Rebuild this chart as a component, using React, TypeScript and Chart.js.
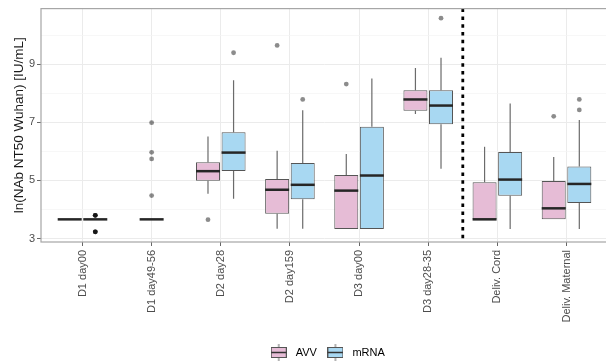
import React, { useEffect, useRef } from 'react';
import { Chart, registerables } from 'chart.js';

Chart.register(...registerables);

// ---------- data ----------
const categories = [
  'D1 day00',
  'D1 day49-56',
  'D2 day28',
  'D2 day159',
  'D3 day00',
  'D3 day28-35',
  'Deliv. Cord',
  'Deliv. Maternal',
];

const avvQ1 = [3.66, 3.66, 4.99, 3.85, 3.33, 7.4, 3.66, 3.66];
const avvQ3 = [3.66, 3.66, 5.63, 5.05, 5.19, 8.11, 4.94, 4.98];
const avvMedian = [3.66, 3.66, 5.32, 4.68, 4.65, 7.79, 3.66, 4.04];
const avvLow = [3.66, 3.66, 4.54, 3.34, 3.33, 7.29, 3.66, 3.66];
const avvHigh = [3.66, 3.66, 6.51, 6.02, 5.91, 8.87, 6.16, 5.81];
const avvOutliers: number[][] = [[], [6.99, 5.97, 5.74, 4.48], [3.65], [9.65], [8.32], [], [], [7.21]];

const mrnaQ1 = [3.66, null, 5.33, 4.35, 3.33, 6.94, 4.47, 4.22];
const mrnaQ3 = [3.66, null, 6.66, 5.6, 6.85, 8.11, 5.98, 5.48];
const mrnaMedian = [3.66, null, 5.96, 4.85, 5.17, 7.58, 5.03, 4.88];
const mrnaLow = [3.66, null, 4.37, 3.34, 3.33, 5.4, 3.33, 3.33];
const mrnaHigh = [3.66, null, 8.45, 7.42, 8.51, 9.23, 7.65, 7.08];
// repeated values = several overlapping observations
const mrnaOutliers: number[][] = [
  [3.8, 3.8, 3.8, 3.8, 3.23, 3.23, 3.23, 3.23],
  [],
  [9.4],
  [7.79],
  [],
  [10.59],
  [],
  [7.79, 7.43],
];

const yTicks = [3, 4, 5, 6, 7, 8, 9, 10];
const separatorAt = 5.5;

// ---------- style ----------
const FONT = '"Liberation Sans", Arial, sans-serif';
const PINK = '#E6BCD6';
const BLUE = '#A8D8F2';
const BOX_BORDER = '#555555';
const LEG_DX = 22;
const LEG_DY = 6;

const series = [
  { label: 'AVV', color: PINK, q1: avvQ1, q3: avvQ3, med: avvMedian, low: avvLow, high: avvHigh, out: avvOutliers },
  { label: 'mRNA', color: BLUE, q1: mrnaQ1, q3: mrnaQ3, med: mrnaMedian, low: mrnaLow, high: mrnaHigh, out: mrnaOutliers },
];

function makeKey(fill: string): HTMLCanvasElement {
  const c = document.createElement('canvas');
  c.width = 16;
  c.height = 17;
  const g = c.getContext('2d')!;
  g.strokeStyle = '#666';
  g.lineWidth = 1;
  g.beginPath();
  g.moveTo(8, 0);
  g.lineTo(8, 17);
  g.stroke();
  g.fillStyle = fill;
  g.fillRect(0.5, 3.5, 15, 10);
  g.strokeStyle = BOX_BORDER;
  g.strokeRect(0.5, 3.5, 15, 10);
  g.strokeStyle = '#333';
  g.lineWidth = 1.5;
  g.beginPath();
  g.moveTo(0.5, 8.5);
  g.lineTo(15.5, 8.5);
  g.stroke();
  return c;
}

const boxPlugin = {
  id: 'boxExtras',
  afterLayout(chart: any) {
    const lg = chart.legend;
    if (lg) {
      lg.left += LEG_DX;
      lg.right += LEG_DX;
      lg.top += LEG_DY;
      lg.bottom += LEG_DY;
    }
  },
  beforeDatasetsDraw(chart: any) {
    const ctx = chart.ctx;
    const ys = chart.scales.y;
    ctx.save();
    ctx.strokeStyle = '#6b6b6b';
    ctx.lineWidth = 1.2;
    series.forEach((s, di) => {
      const meta = chart.getDatasetMeta(di);
      meta.data.forEach((bar: any, i: number) => {
        if (s.q1[i] == null || !isFinite(bar.x)) return;
        ctx.beginPath();
        ctx.moveTo(bar.x, ys.getPixelForValue(s.q3[i]));
        ctx.lineTo(bar.x, ys.getPixelForValue(s.high[i]));
        ctx.moveTo(bar.x, ys.getPixelForValue(s.q1[i]));
        ctx.lineTo(bar.x, ys.getPixelForValue(s.low[i]));
        ctx.stroke();
      });
    });
    ctx.restore();
  },
  afterDatasetsDraw(chart: any) {
    const ctx = chart.ctx;
    const ys = chart.scales.y;
    const xs = chart.scales.x;
    const area = chart.chartArea;
    ctx.save();
    series.forEach((s, di) => {
      const meta = chart.getDatasetMeta(di);
      meta.data.forEach((bar: any, i: number) => {
        if (s.q1[i] == null || !isFinite(bar.x)) return;
        const w = bar.width;
        const my = ys.getPixelForValue(s.med[i] as number);
        ctx.strokeStyle = '#262626';
        ctx.lineWidth = 2.5;
        ctx.beginPath();
        ctx.moveTo(bar.x - w / 2, my);
        ctx.lineTo(bar.x + w / 2, my);
        ctx.stroke();
        ctx.fillStyle = 'rgba(0,0,0,0.45)';
        s.out[i].forEach((v) => {
          ctx.beginPath();
          ctx.arc(bar.x, ys.getPixelForValue(v), 2.4, 0, Math.PI * 2);
          ctx.fill();
        });
      });
    });
    // separator
    const sx = xs.getPixelForValue(separatorAt);
    ctx.strokeStyle = '#000';
    ctx.lineWidth = 2.8;
    ctx.setLineDash([3.5, 4.3]);
    ctx.beginPath();
    ctx.moveTo(sx, area.top);
    ctx.lineTo(sx, area.bottom);
    ctx.stroke();
    ctx.setLineDash([]);
    // panel border
    ctx.strokeStyle = '#a6a6a6';
    ctx.lineWidth = 1.2;
    ctx.strokeRect(area.left, area.top, area.right - area.left, area.bottom - area.top);
    ctx.restore();
  },
};

export default function App() {
  const ref = useRef<HTMLCanvasElement | null>(null);

  useEffect(() => {
    if (!ref.current) return;
    const keys = series.map((s) => makeKey(s.color));
    const chart = new Chart(ref.current, {
      type: 'bar',
      data: {
        datasets: series.map((s) => ({
          label: s.label,
          data: categories.map((_, i) => ({
            x: i,
            y: s.q1[i] == null ? null : [s.q1[i], s.q3[i]],
          })) as any,
          backgroundColor: s.color,
          borderColor: BOX_BORDER,
          borderWidth: 1,
          borderSkipped: false,
          skipNull: true,
          categoryPercentage: 0.74,
          barPercentage: 0.94,
          maxBarThickness: 24,
        })),
      },
      options: {
        animation: false,
        responsive: false,
        events: [],
        layout: { padding: { top: 8, right: 4, left: 0, bottom: 0 } },
        plugins: {
          tooltip: { enabled: false },
          legend: {
            position: 'bottom',
            labels: {
              usePointStyle: true,
              pointStyleWidth: 23,
              padding: 7,
              color: '#333',
              font: { family: FONT, size: 11 },
              generateLabels: () =>
                series.map((s, i) => ({
                  text: s.label,
                  pointStyle: keys[i] as any,
                  fillStyle: s.color,
                  strokeStyle: 'transparent',
                  lineWidth: 0,
                  hidden: false,
                  datasetIndex: i,
                })),
            },
          },
        },
        scales: {
          x: {
            type: 'linear',
            min: -0.6,
            max: 7.6,
            offset: false,
            afterBuildTicks: (s: any) => {
              s.ticks = categories.map((_, i) => ({ value: i }));
            },
            afterFit: (s: any) => {
              s.height = 92;
            },
            grid: { color: '#ebebeb', lineWidth: 1, tickLength: 4, tickColor: '#666', drawTicks: true, offset: false },
            border: { display: false },
            ticks: {
              autoSkip: false,
              minRotation: 90,
              maxRotation: 90,
              padding: 4,
              color: '#4d4d4d',
              font: { family: FONT, size: 11 },
              callback: (v: any) => categories[Math.round(Number(v))] ?? '',
            },
          },
          y: {
            type: 'linear',
            min: 2.88,
            max: 10.92,
            afterBuildTicks: (s: any) => {
              s.ticks = yTicks.map((v) => ({ value: v }));
            },
            afterFit: (s: any) => {
              s.width = 41;
            },
            grid: {
              color: (c: any) => (c.tick && c.tick.value % 2 === 1 ? '#ebebeb' : '#f3f3f3'),
              lineWidth: (c: any) => (c.tick && c.tick.value % 2 === 1 ? 1 : 0.7),
              tickLength: 4,
              tickColor: (c: any) => (c.tick && c.tick.value % 2 === 1 ? '#666' : 'rgba(0,0,0,0)'),
            },
            border: { display: false },
            ticks: {
              padding: 2,
              color: '#4d4d4d',
              font: { family: FONT, size: 11 },
              callback: (v: any) => (Number(v) % 2 === 1 ? String(v) : ''),
            },
            title: {
              display: true,
              text: 'ln(NAb NT50 Wuhan) [IU/mL]',
              color: '#1a1a1a',
              font: { family: FONT, size: 13.5 },
              padding: { top: 11, bottom: 0 },
            },
          },
        },
      },
      plugins: [boxPlugin],
    });
    return () => chart.destroy();
  }, []);

  return (
    <div
      style={{
        position: 'fixed',
        left: 0,
        top: 0,
        width: 606,
        height: 362,
        overflow: 'hidden',
        background: '#fff',
      }}
    >
      <canvas ref={ref} width={612} height={362} style={{ display: 'block' }} />
    </div>
  );
}
